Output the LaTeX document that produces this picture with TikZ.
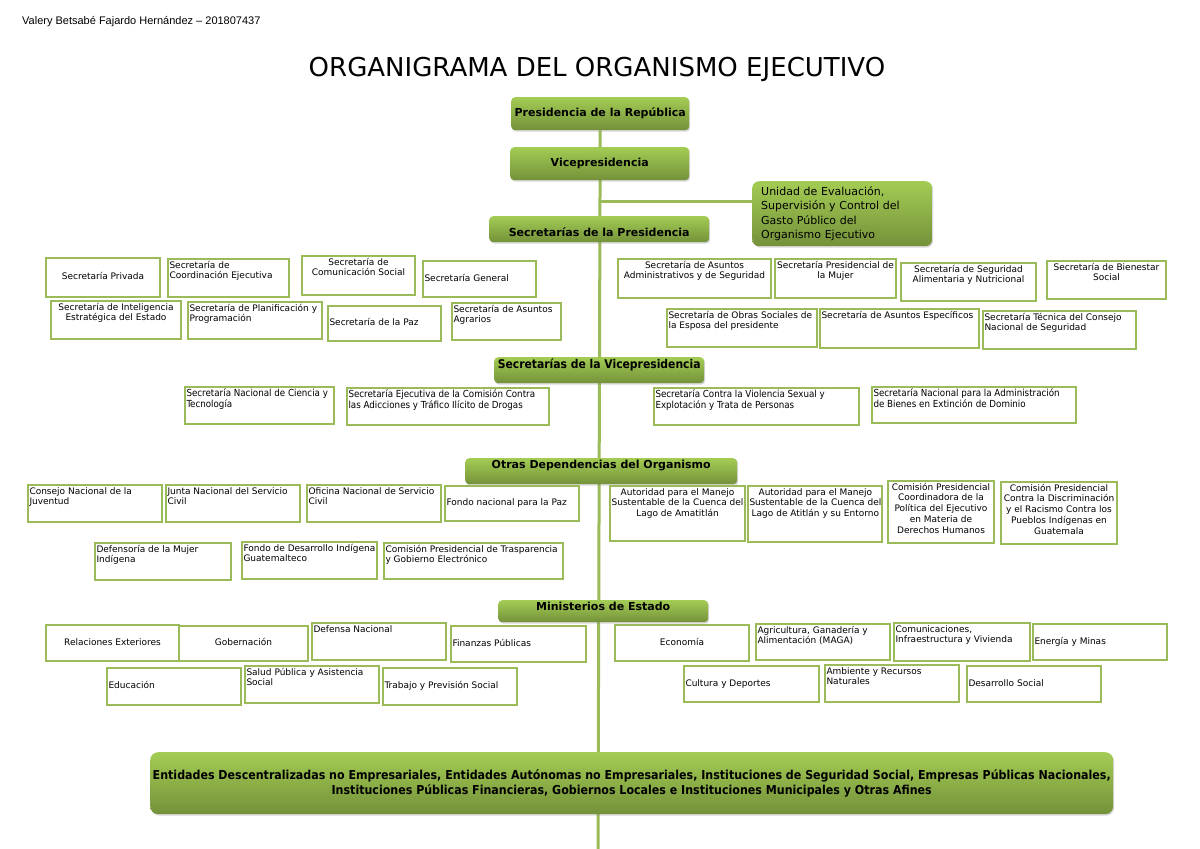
\documentclass[tikz,border=0pt]{standalone}
\usepackage{fontspec}
\setmainfont{DejaVu Sans}
\newfontfamily\encabezado{Liberation Sans}
\newfontfamily\condensada{DejaVu Sans Condensed}
\usetikzlibrary{positioning, shadows, backgrounds}

\definecolor{VerdeBorde}{RGB}{155,187,89}
\definecolor{VerdeClaro}{RGB}{163,204,84}
\definecolor{VerdeOscuro}{RGB}{116,145,58}

% letra de las cajas blancas
\newcommand{\fuentecaja}{\fontsize{9}{10.8}\selectfont}
% [pos. vertical]{nombre}{x1}{y1}{x2}{y2}{l/c}{texto}
\newcommand{\caja}[8][t]{%
  \node[caja] (#2) at (#3,#4) {\parbox[c][\dimexpr #6pt-#4pt-3pt\relax][#1]{\dimexpr #5pt-#3pt-3pt\relax}{\if c#7\centering\fi\begin{tabular}{@{}#7@{}}#8\end{tabular}}};}

\tikzset{
  caja/.style={draw=VerdeBorde, line width=2pt, fill=white, inner sep=1.5pt, anchor=north west, font=\fuentecaja},
  verde/.style={rounded corners=4pt, top color=VerdeClaro, bottom color=VerdeOscuro, anchor=north west, inner sep=0pt,
    font=\bfseries\fontsize{11}{13}\selectfont, drop shadow={opacity=0.3, shadow xshift=1pt, shadow yshift=-1.5pt}},
  tronco/.style={draw=VerdeBorde, line width=3pt},
}

\begin{document}
\begin{tikzpicture}[x=1pt, y=-1pt]
  \useasboundingbox (0,0) rectangle (1200,849);

  \node[anchor=base west, inner sep=0, font=\encabezado\fontsize{11}{13}\selectfont] (autor) at (22,24) {Valery Betsabé Fajardo Hernández – 201807437};
  \node[anchor=base, inner sep=0, font=\fontsize{26}{30}\selectfont] (titulo) at (597,76) {ORGANIGRAMA DEL ORGANISMO EJECUTIVO};

  % cajas verdes
  \node[verde, minimum width=178, minimum height=33] (pres) at (511,97) {Presidencia de la República};
  \node[verde, minimum width=179, minimum height=33] (vice) at (510,147) {Vicepresidencia};
  \node[verde, minimum width=180, minimum height=65, rounded corners=7pt, text width=162, align=left,
    font=\fontsize{11}{14.3}\selectfont] (unidad) at (752,181) {Unidad de Evaluación,\\Supervisión y Control del\\Gasto Público del\\Organismo Ejecutivo};
  \node[verde, minimum width=220, minimum height=26, text height=14, text depth=0] (secpres) at (489,216) {Secretarías de la Presidencia};
  \node[verde, minimum width=210, minimum height=26, text height=9, text depth=13,
    font=\condensada\bfseries\fontsize{12}{14}\selectfont] (secvice) at (494,357) {Secretarías de la Vicepresidencia};
  \node[verde, minimum width=272, minimum height=26, text height=8, text depth=14] (otras) at (465,458) {Otras Dependencias del Organismo};
  \node[verde, minimum width=210, minimum height=22, text height=8, text depth=10] (minis) at (498,600) {Ministerios de Estado};
  \node[verde, minimum width=963, minimum height=62, rounded corners=8pt, align=center,
    font=\condensada\bfseries\fontsize{12.3}{14.5}\selectfont] (entidades) at (150,752) {Entidades Descentralizadas no Empresariales, Entidades Autónomas no Empresariales, Instituciones de Seguridad Social, Empresas Públicas Nacionales,\\Instituciones Públicas Financieras, Gobiernos Locales e Instituciones Municipales y Otras Afines};

  % secretarias de la presidencia
  \caja[c]{sprivada}{45}{257}{159}{296}{c}{Secretaría Privada}
  \caja{scoord}{167}{258}{288}{296}{l}{Secretaría de\\Coordinación Ejecutiva}
  \caja{scomunic}{301}{255}{414}{294}{c}{Secretaría de\\Comunicación Social}
  \caja[c]{sgeneral}{422}{260}{535}{296}{l}{Secretaría General}
  \caja{sintel}{50}{300}{180}{338}{c}{Secretaría de Inteligencia\\Estratégica del Estado}
  \caja{splanif}{187}{301}{321}{338}{l}{Secretaría de Planificación y\\Programación}
  \caja[c]{spaz}{327}{305}{440}{340}{l}{Secretaría de la Paz}
  \caja{sagrar}{451}{302}{560}{339}{l}{Secretaría de Asuntos\\Agrarios}
  \caja{sadmin}{617}{258}{770}{297}{c}{Secretaría de Asuntos\\Administrativos y de Seguridad}
  \caja{smujer}{774}{258}{895}{297}{c}{Secretaría Presidencial de\\la Mujer}
  \caja{salim}{900}{262}{1035}{300}{c}{Secretaría de Seguridad\\Alimentaria y Nutricional}
  \caja{sbien}{1046}{260}{1165}{298}{c}{Secretaría de Bienestar\\Social}
  \caja{sobras}{666}{308}{816}{346}{l}{Secretaría de Obras Sociales de\\la Esposa del presidente}
  \caja{sespec}{819}{308}{978}{347}{l}{Secretaría de Asuntos Específicos}
  \caja{stecn}{982}{310}{1135}{348}{l}{Secretaría Técnica del Consejo\\Nacional de Seguridad}

  % secretarias de la vicepresidencia
  \begin{scope}
    \renewcommand{\fuentecaja}{\condensada\fontsize{9.7}{11}\selectfont}
    \caja{scienc}{184}{386}{333}{423}{l}{Secretaría Nacional de Ciencia y\\Tecnología}
    \caja{sadicc}{346}{387}{548}{424}{l}{Secretaría Ejecutiva de la Comisión Contra\\las Adicciones y Tráfico Ilícito de Drogas}
    \caja{sviol}{653}{387}{858}{424}{l}{Secretaría Contra la Violencia Sexual y\\Explotación y Trata de Personas}
    \caja{sbienes}{871}{386}{1075}{422}{l}{Secretaría Nacional para la Administración\\de Bienes en Extinción de Dominio}
  \end{scope}

  % otras dependencias
  \caja{cjuv}{27}{484}{161}{521}{l}{Consejo Nacional de la\\Juventud}
  \caja{jserv}{165}{484}{299}{521}{l}{Junta Nacional del Servicio\\Civil}
  \caja{oserv}{306}{484}{440}{521}{l}{Oficina Nacional de Servicio\\Civil}
  \caja[c]{fpaz}{444}{485}{578}{520}{l}{Fondo nacional para la Paz}
  \caja{aamat}{609}{485}{744}{540}{c}{Autoridad para el Manejo\\Sustentable de la Cuenca del\\Lago de Amatitlán}
  \caja{aatit}{747}{485}{881}{541}{c}{Autoridad para el Manejo\\Sustentable de la Cuenca del\\Lago de Atitlán y su Entorno}
  \caja{cddhh}{887}{480}{993}{542}{c}{Comisión Presidencial\\Coordinadora de la\\Política del Ejecutivo\\en Materia de\\Derechos Humanos}
  \caja{cdisc}{1000}{481}{1116}{543}{c}{Comisión Presidencial\\Contra la Discriminación\\y el Racismo Contra los\\Pueblos Indígenas en\\Guatemala}
  \caja{dmuj}{94}{542}{230}{579}{l}{Defensoría de la Mujer\\Indígena}
  \caja{fdes}{241}{541}{376}{578}{l}{Fondo de Desarrollo Indígena\\Guatemalteco}
  \caja{ctrasp}{383}{542}{562}{578}{l}{Comisión Presidencial de Trasparencia\\y Gobierno Electrónico}

  % ministerios
  \caja[c]{relext}{45}{624}{178}{660}{c}{Relaciones Exteriores}
  \caja[c]{gober}{178}{625}{307}{660}{c}{Gobernación}
  \caja{defensa}{311}{622}{445}{659}{l}{Defensa Nacional}
  \caja[c]{finanzas}{450}{625}{585}{661}{l}{Finanzas Públicas}
  \caja[c]{econ}{614}{624}{748}{660}{c}{Economía}
  \caja{agric}{755}{623}{889}{659}{l}{Agricultura, Ganadería y\\Alimentación (MAGA)}
  \caja{comun}{893}{622}{1029}{660}{l}{Comunicaciones,\\Infraestructura y Vivienda}
  \caja[c]{energ}{1032}{623}{1166}{659}{l}{Energía y Minas}
  \caja[c]{educ}{106}{667}{240}{704}{l}{Educación}
  \caja{salud}{244}{665}{378}{702}{l}{Salud Pública y Asistencia\\Social}
  \caja[c]{trabajo}{382}{667}{516}{704}{l}{Trabajo y Previsión Social}
  \caja[c]{cultura}{683}{665}{818}{701}{l}{Cultura y Deportes}
  \caja{ambiente}{824}{664}{958}{701}{l}{Ambiente y Recursos\\Naturales}
  \caja[c]{desoc}{966}{665}{1100}{701}{l}{Desarrollo Social}

  % linea principal
  \coordinate (fin) at (598,849);
  \coordinate (rama) at (600,201);
  \begin{scope}[on background layer]
    \fill[white] (0,0) rectangle (1200,849);
    \draw[tronco] (pres.south) -- (fin);
    \draw[tronco] (rama) -- (rama -| unidad.west);
  \end{scope}
\end{tikzpicture}
\end{document}
